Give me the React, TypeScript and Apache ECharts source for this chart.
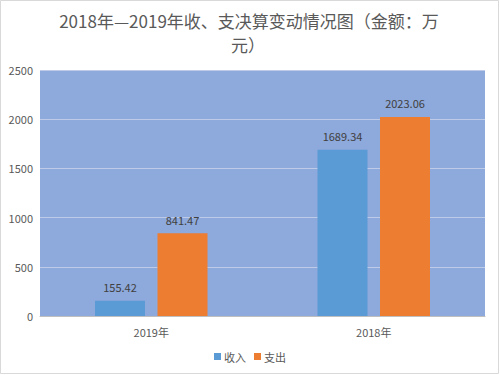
import React, { useEffect, useRef } from "react";
import * as echarts from "echarts";

const categories = ["2019年", "2018年"];
const incomeValues = [155.42, 1689.34];
const expenseValues = [841.47, 2023.06];
const seriesNames = ["收入", "支出"];
const titleLine1 = "2018年—2019年收、支决算变动情况图（金额：万";
const titleLine2 = "元）";

export default function App() {
  const ref = useRef<HTMLDivElement>(null);
  useEffect(() => {
    if (!ref.current) return;
    const chart = echarts.init(ref.current, undefined, { renderer: "svg" });
    const font = "'Noto Sans CJK SC', 'Noto Sans', sans-serif";
    const titleStyle = {
      fontSize: 17,
      fontWeight: "normal",
      fill: "#595959",
      fontFamily: font,
      align: "center",
      verticalAlign: "middle",
    };
    chart.setOption({
      animation: false,
      backgroundColor: "#ffffff",
      textStyle: { fontFamily: font },
      graphic: [
        {
          type: "text",
          x: 249,
          y: 20,
          style: { ...titleStyle, text: titleLine1 },
          silent: true,
        },
        {
          type: "text",
          x: 248,
          y: 44,
          style: { ...titleStyle, text: titleLine2 },
          silent: true,
        },
        {
          type: "rect",
          shape: { x: 0.5, y: 0.5, width: 498, height: 373 },
          style: { fill: "none", stroke: "#d9d9d9", lineWidth: 1 },
          silent: true,
          z: 100,
        },
      ],
      legend: {
        bottom: 8,
        left: "center",
        itemWidth: 7,
        itemHeight: 7,
        itemGap: 8,
        icon: "rect",
        textStyle: { fontSize: 11, color: "#595959", fontFamily: font, padding: [0, 0, 0, -2] },
        data: seriesNames,
      },
      grid: {
        left: 40,
        right: 15,
        top: 70,
        bottom: 59,
        show: true,
        backgroundColor: "#8EA9DB",
        borderWidth: 0,
      },
      xAxis: {
        type: "category",
        data: categories,
        axisLine: { show: true, lineStyle: { color: "#bfbfbf", width: 1 } },
        axisTick: { show: false },
        axisLabel: { fontSize: 11, color: "#595959", margin: 10, fontFamily: font },
      },
      yAxis: {
        type: "value",
        min: 0,
        max: 2500,
        interval: 500,
        axisLine: { show: false },
        axisTick: { show: false },
        splitLine: { show: true, lineStyle: { color: "#BDCBE8", width: 1 } },
        axisLabel: {
          fontSize: 11,
          color: "#595959",
          margin: 7,
          fontFamily: font,
          formatter: (v: number) => String(v),
        },
      },
      series: [
        {
          name: seriesNames[0],
          type: "bar",
          data: incomeValues,
          barWidth: 50,
          barGap: "25%",
          itemStyle: { color: "#5B9BD5" },
          label: {
            show: true,
            position: "top",
            distance: 8,
            fontSize: 11,
            color: "#404040",
            fontFamily: font,
          },
        },
        {
          name: seriesNames[1],
          type: "bar",
          data: expenseValues,
          barWidth: 50,
          barGap: "25%",
          itemStyle: { color: "#ED7D31" },
          label: {
            show: true,
            position: "top",
            distance: 8,
            fontSize: 11,
            color: "#404040",
            fontFamily: font,
          },
        },
      ],
    });
    return () => chart.dispose();
  }, []);
  return (
    <div
      ref={ref}
      style={{ position: "fixed", left: 0, top: 0, width: 500, height: 375 }}
    />
  );
}
